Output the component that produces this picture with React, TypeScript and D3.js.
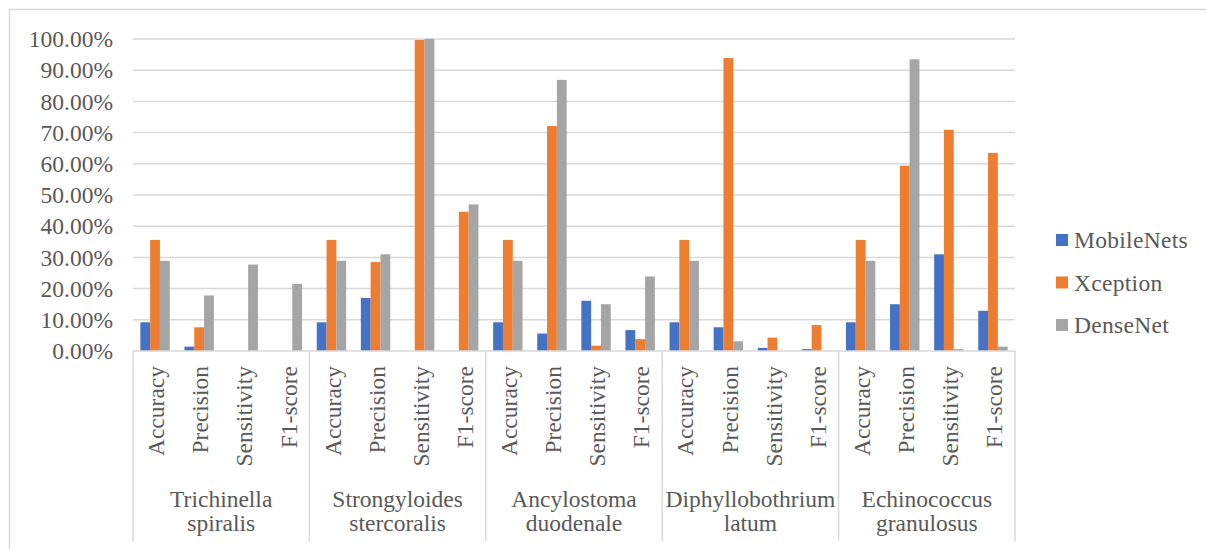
import React from "react";
import * as d3 from "d3";

const groups = [
  "Trichinella spiralis",
  "Strongyloides stercoralis",
  "Ancylostoma duodenale",
  "Diphyllobothrium latum",
  "Echinococcus granulosus",
];
const metrics = ["Accuracy", "Precision", "Sensitivity", "F1-score"];
const seriesNames = ["MobileNets", "Xception", "DenseNet"];
const seriesColors = ["#4472C4", "#ED7D31", "#A5A5A5"];

// values in %, order: group x metric
const mobileNets = [9.2, 1.4, 0, 0, 9.2, 17.0, 0, 0, 9.2, 5.6, 16.1, 6.7, 9.2, 7.6, 1.0, 0.6, 9.2, 15.0, 31.0, 12.9];
const xception = [35.6, 7.6, 0, 0, 35.6, 28.5, 99.7, 44.6, 35.6, 72.1, 1.7, 3.8, 35.6, 93.9, 4.3, 8.3, 35.6, 59.4, 70.9, 63.5];
const denseNet = [28.9, 17.8, 27.7, 21.5, 28.9, 31.0, 100, 47.0, 28.9, 86.9, 15.0, 23.9, 28.9, 3.1, 0, 0, 28.9, 93.5, 0.6, 1.4];
const yTicks = [0, 0.1, 0.2, 0.3, 0.4, 0.5, 0.6, 0.7, 0.8, 0.9, 1.0];

const W = 1206;
const H = 549;
const plotL = 133;
const plotR = 1015;
const plotT = 39;
const plotB = 351;
const FONT = '"Liberation Serif", "Times New Roman", Tinos, serif';
const TXT = "#595959";
const GRID = "#d9d9d9";

export default function App() {
  const seriesValues = [mobileNets, xception, denseNet];
  const cats = d3.range(groups.length * metrics.length);
  const x0 = d3.scaleBand<number>().domain(cats).range([plotL, plotR]).padding(0);
  const x1 = d3
    .scaleBand<number>()
    .domain(d3.range(seriesNames.length))
    .range([0, x0.bandwidth()])
    .paddingInner(0)
    .paddingOuter(0.75);
  const y = d3.scaleLinear().domain([0, 1]).range([plotB, plotT]);
  const fmt = d3.format(".2%");
  const groupW = x0.step() * metrics.length;
  const textStyle = { fontFamily: FONT, fill: TXT };

  return (
    <div style={{ position: "absolute", left: 0, top: 0 }}>
      <svg width={W} height={H} style={{ display: "block", background: "#fff" }}>
        <rect x={9.5} y={9.5} width={W} height={H} fill="none" stroke={GRID} strokeWidth={1.5} />
        {yTicks.map((t) => (
          <g key={t}>
            {t > 0 && (
              <line x1={plotL} x2={plotR} y1={y(t)} y2={y(t)} stroke={GRID} strokeWidth={1.5} />
            )}
            <text
              x={113}
              y={y(t)}
              dy="0.35em"
              textAnchor="end"
              style={{ ...textStyle, fontSize: 23.5 }}
            >
              {fmt(t)}
            </text>
          </g>
        ))}
        {seriesValues.map((vals, si) =>
          vals.map((v, ci) =>
            v > 0 ? (
              <rect
                key={`${si}-${ci}`}
                x={(x0(ci) as number) + (x1(si) as number)}
                y={y(v / 100)}
                width={x1.bandwidth()}
                height={plotB - y(v / 100)}
                fill={seriesColors[si]}
              />
            ) : null
          )
        )}
        <line x1={plotL} x2={plotR} y1={plotB} y2={plotB} stroke={GRID} strokeWidth={1.5} />
        {d3.range(groups.length + 1).map((g) => (
          <line
            key={`sep${g}`}
            x1={plotL + g * groupW}
            x2={plotL + g * groupW}
            y1={plotB}
            y2={541}
            stroke={GRID}
            strokeWidth={1.5}
          />
        ))}
        {cats.map((ci) => {
          const cx = (x0(ci) as number) + x0.bandwidth() / 2 + 1;
          return (
            <text
              key={`c${ci}`}
              transform={`translate(${cx},366) rotate(-90)`}
              dy="0.35em"
              textAnchor="end"
              style={{ ...textStyle, fontSize: 23.5 }}
            >
              {metrics[ci % metrics.length]}
            </text>
          );
        })}
        {groups.map((g, gi) => {
          const cx = plotL + (gi + 0.5) * groupW;
          const lines = g.split(" ");
          return (
            <text key={g} textAnchor="middle" style={{ ...textStyle, fontSize: 23.5 }}>
              {lines.map((ln, li) => (
                <tspan key={li} x={cx} y={507 + li * 24}>
                  {ln}
                </tspan>
              ))}
            </text>
          );
        })}
        {seriesNames.map((s, si) => (
          <g key={s}>
            <rect x={1056} y={234 + si * 42.5} width={12} height={12} fill={seriesColors[si]} />
            <text
              x={1074}
              y={248 + si * 42.5}
              style={{ ...textStyle, fontSize: 23.5, letterSpacing: 0.3 }}
            >
              {s}
            </text>
          </g>
        ))}
      </svg>
    </div>
  );
}
